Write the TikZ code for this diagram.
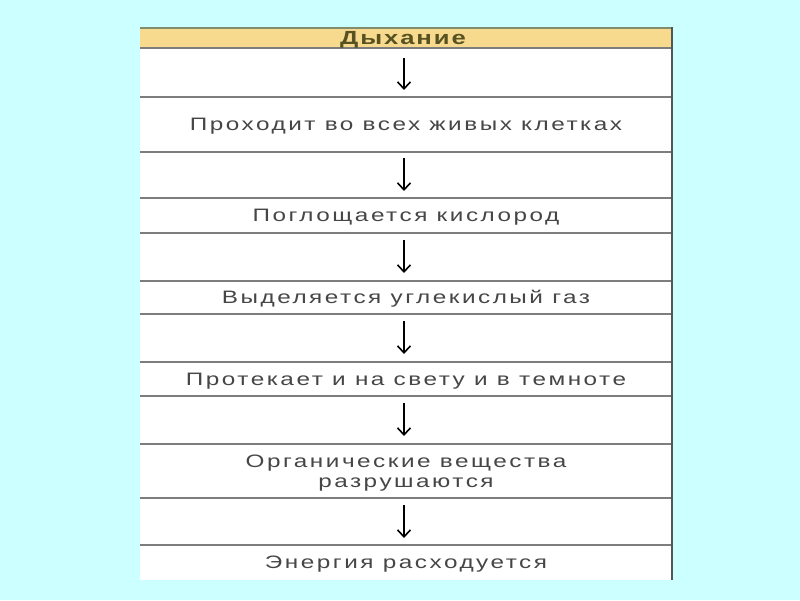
\documentclass[tikz,border=0pt]{standalone}
\usepackage{fontspec}
\setmainfont{Liberation Sans}[FakeStretch=1.35, LetterSpace=14]
\newfontfamily\headfont{Liberation Sans}[FakeStretch=1.35, LetterSpace=10]
\usetikzlibrary{positioning, arrows.meta}
\definecolor{slidebg}{RGB}{204,255,255}
\definecolor{headfill}{RGB}{248,218,142}
\definecolor{headline}{RGB}{130,140,110}
\definecolor{headtext}{RGB}{88,82,34}
\definecolor{celltext}{RGB}{70,70,70}
\definecolor{rulegray}{RGB}{125,125,125}
\definecolor{sidegray}{RGB}{85,85,85}

\begin{document}
\begin{tikzpicture}[
    x=1pt, y=-1pt,
    rowline/.style={draw=rulegray, line width=1.5pt},
    cell/.style={text=celltext, font=\fontsize{18}{20}\selectfont, align=center, inner sep=0pt},
    head/.style={text=headtext, font=\headfont\bfseries\fontsize{19}{20}\selectfont, inner sep=0pt},
    down/.style={line width=1.6pt, -{Straight Barb[length=7pt, width=13pt, line width=1.6pt]}}
]
\useasboundingbox (0,0) rectangle (800,600);
\fill[slidebg] (0,0) rectangle (800,600);

% table body
\fill[white] (140,48) rectangle (672,580);
\fill[headfill] (140,28) rectangle (672,48);
\draw[draw=headline, line width=1.5pt] (140,28) -- (672,28);
\draw[rowline] (140,48) -- (672,48);
\draw[rowline] (140,97) -- (672,97);
\draw[rowline] (140,152) -- (672,152);
\draw[rowline] (140,198) -- (672,198);
\draw[rowline] (140,233) -- (672,233);
\draw[rowline] (140,281) -- (672,281);
\draw[rowline] (140,314) -- (672,314);
\draw[rowline] (140,362) -- (672,362);
\draw[rowline] (140,396) -- (672,396);
\draw[rowline] (140,444) -- (672,444);
\draw[rowline] (140,498) -- (672,498);
\draw[rowline] (140,545) -- (672,545);
\draw[draw=sidegray, line width=2pt] (672,27) -- (672,580);

\node[head] (title) at (403,39.5) {Дыхание};

\node[cell] (t1) at (406,126.5) {Проходит во всех живых клетках};
    \node[cell] (t2) at (406,217) {Поглощается кислород};
    \node[cell] (t3) at (406,299) {Выделяется углекислый газ};
    \node[cell] (t4) at (406,381) {Протекает и на свету и в темноте};
    \node[cell] (t5) at (406,473.5) {Органические вещества\\разрушаются};
    \node[cell] (t6) at (406,564) {Энергия расходуется};

\coordinate (a1s) at (404,58);  \coordinate (a1e) at (404,90);
    \coordinate (a2s) at (404,158); \coordinate (a2e) at (404,191);
    \coordinate (a3s) at (404,240); \coordinate (a3e) at (404,273);
    \coordinate (a4s) at (404,321); \coordinate (a4e) at (404,354);
    \coordinate (a5s) at (404,403); \coordinate (a5e) at (404,436);
    \coordinate (a6s) at (404,505); \coordinate (a6e) at (404,538);

\draw[down] (a1s) -- (a1e);
    \draw[down] (a2s) -- (a2e);
    \draw[down] (a3s) -- (a3e);
    \draw[down] (a4s) -- (a4e);
    \draw[down] (a5s) -- (a5e);
    \draw[down] (a6s) -- (a6e);
\end{tikzpicture}
\end{document}
